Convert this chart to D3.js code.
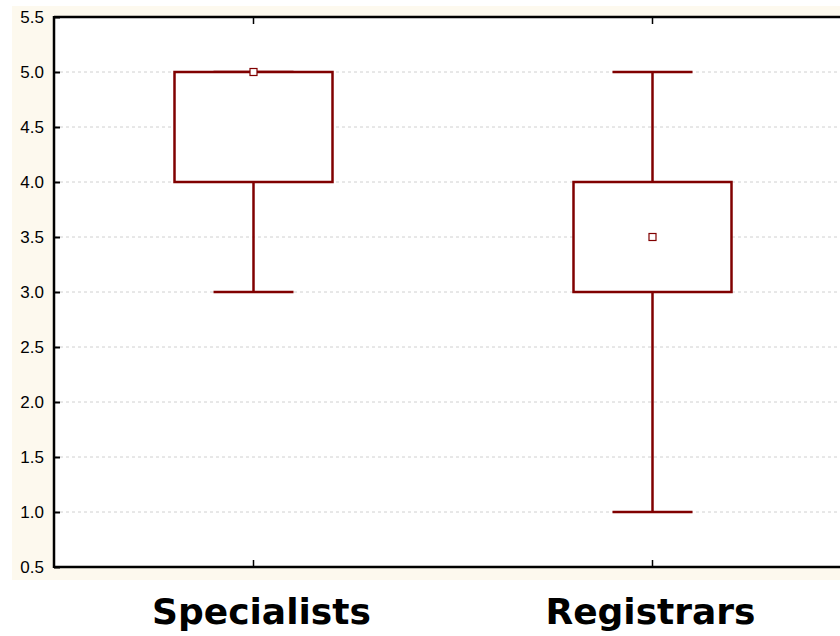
<!DOCTYPE html>
<html>
<head>
<meta charset="utf-8">
<script src="https://cdn.jsdelivr.net/npm/d3@7"></script>
<style>
  html, body { margin: 0; padding: 0; background: #ffffff; }
  svg { display: block; }
</style>
</head>
<body>
<svg id="chart" width="840" height="636"></svg>
<script>
// Box plot summaries per group
const categories = ["Specialists", "Registrars"];
const medians   = [5.0, 3.5];
const q1Values  = [4.0, 3.0];
const q3Values  = [5.0, 4.0];
const minValues = [3.0, 1.0];
const maxValues = [5.0, 5.0];
const yTicks    = [0.5, 1.0, 1.5, 2.0, 2.5, 3.0, 3.5, 4.0, 4.5, 5.0, 5.5];

const boxColor = "#800000";
const svg = d3.select("#chart");

const plot = { left: 54, top: 17, width: 798, height: 550 };

// Cream panel behind the axes
svg.append("rect")
  .attr("x", 12).attr("y", 6)
  .attr("width", 840).attr("height", 574)
  .attr("fill", "#fdf9ee");

svg.append("rect")
  .attr("x", plot.left).attr("y", plot.top)
  .attr("width", plot.width).attr("height", plot.height)
  .attr("fill", "#ffffff");

const y = d3.scaleLinear().domain([0.5, 5.5]).range([plot.top + plot.height, plot.top]);
const x = d3.scaleBand().domain(categories).range([plot.left, plot.left + plot.width]);

// Dashed horizontal gridlines
svg.append("g")
  .selectAll("line")
  .data(yTicks.slice(1, -1))
  .join("line")
  .attr("x1", plot.left).attr("x2", plot.left + plot.width)
  .attr("y1", d => y(d)).attr("y2", d => y(d))
  .attr("stroke", "#d0d0d0")
  .attr("stroke-width", 1)
  .attr("stroke-dasharray", "3,3");

// Y axis with ticks pointing into the plot
const yAxis = svg.append("g")
  .attr("transform", `translate(${plot.left},0)`)
  .call(d3.axisLeft(y).tickValues(yTicks).tickFormat(d3.format(".1f")).tickSizeInner(-6).tickSizeOuter(0).tickPadding(10));
yAxis.select(".domain").remove();
yAxis.selectAll(".tick line").attr("stroke", "#000").attr("stroke-width", 2);
yAxis.selectAll(".tick text")
  .style("font-family", "'Liberation Sans', Arial, sans-serif")
  .style("font-size", "17px")
  .attr("fill", "#000");

// Bottom category axis: ticks pointing up, labels in bold
const xAxis = svg.append("g")
  .attr("transform", `translate(0,${plot.top + plot.height})`)
  .call(d3.axisBottom(x).tickSizeInner(-7).tickSizeOuter(0).tickPadding(31));
xAxis.select(".domain").remove();
xAxis.selectAll(".tick line").attr("stroke", "#000").attr("stroke-width", 1.5);
xAxis.selectAll(".tick text")
  .style("font-family", "'DejaVu Sans', Verdana, sans-serif")
  .style("font-weight", "bold")
  .style("font-size", "36px")
  .attr("fill", "#000")
  .attr("dx", (d, i) => i === 0 ? 8 : -2);

// Top ticks
svg.append("g")
  .selectAll("line")
  .data(categories)
  .join("line")
  .attr("x1", d => x(d) + x.bandwidth() / 2).attr("x2", d => x(d) + x.bandwidth() / 2)
  .attr("y1", plot.top).attr("y2", plot.top + 7)
  .attr("stroke", "#000").attr("stroke-width", 1.5);

// Box plots
const boxW = 158, capW = 80;
const groups = svg.append("g")
  .selectAll("g")
  .data(categories.map((c, i) => ({
    c, med: medians[i], q1: q1Values[i], q3: q3Values[i], lo: minValues[i], hi: maxValues[i]
  })))
  .join("g")
  .attr("transform", d => `translate(${x(d.c) + x.bandwidth() / 2},0)`);

// Whiskers
groups.append("line")
  .attr("x1", 0).attr("x2", 0)
  .attr("y1", d => y(d.lo)).attr("y2", d => y(d.q1))
  .attr("stroke", boxColor).attr("stroke-width", 2.5);
groups.append("line")
  .attr("x1", 0).attr("x2", 0)
  .attr("y1", d => y(d.q3)).attr("y2", d => y(d.hi))
  .attr("stroke", boxColor).attr("stroke-width", 2.5);
groups.append("line")
  .attr("x1", -capW / 2).attr("x2", capW / 2)
  .attr("y1", d => y(d.lo)).attr("y2", d => y(d.lo))
  .attr("stroke", boxColor).attr("stroke-width", 2.5);
groups.append("line")
  .attr("x1", -capW / 2).attr("x2", capW / 2)
  .attr("y1", d => y(d.hi)).attr("y2", d => y(d.hi))
  .attr("stroke", boxColor).attr("stroke-width", 2.5);

// Boxes
groups.append("rect")
  .attr("x", -boxW / 2)
  .attr("y", d => y(d.q3))
  .attr("width", boxW)
  .attr("height", d => y(d.q1) - y(d.q3))
  .attr("fill", "#ffffff")
  .attr("stroke", boxColor).attr("stroke-width", 2.5);

// Median markers
groups.append("rect")
  .attr("x", -3.5)
  .attr("y", d => y(d.med) - 3.5)
  .attr("width", 7).attr("height", 7)
  .attr("fill", "#ffffff")
  .attr("stroke", boxColor).attr("stroke-width", 1.2);

// Axis frame lines (left, top, bottom)
svg.append("line")
  .attr("x1", plot.left).attr("x2", plot.left)
  .attr("y1", plot.top - 1).attr("y2", plot.top + plot.height + 1)
  .attr("stroke", "#000").attr("stroke-width", 2.5);
svg.append("line")
  .attr("x1", plot.left).attr("x2", 840)
  .attr("y1", plot.top).attr("y2", plot.top)
  .attr("stroke", "#000").attr("stroke-width", 2.5);
svg.append("line")
  .attr("x1", plot.left).attr("x2", 840)
  .attr("y1", plot.top + plot.height).attr("y2", plot.top + plot.height)
  .attr("stroke", "#000").attr("stroke-width", 2.5);
</script>
</body>
</html>
